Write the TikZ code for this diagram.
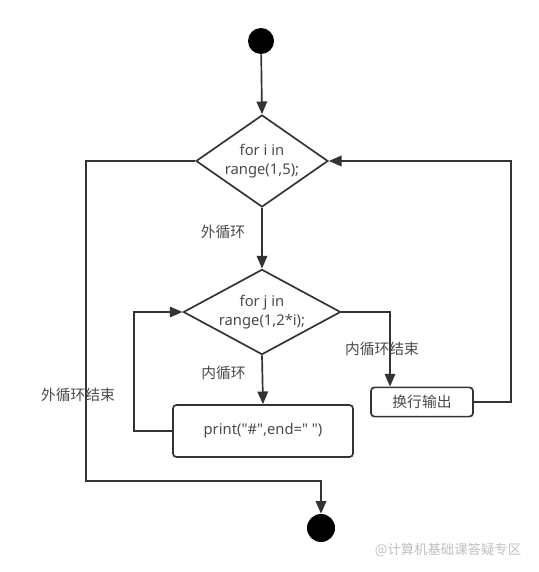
\documentclass[tikz,border=0pt]{standalone}
\usepackage{fontspec}
\setmainfont{Noto Sans}[Ligatures=TeXOff]
\newfontfamily\cjk{Noto Sans CJK SC}
\usetikzlibrary{arrows.meta, shapes.geometric, positioning}
\definecolor{linegray}{HTML}{333333}
\definecolor{textgray}{HTML}{4A4A4A}

\begin{document}
\begin{tikzpicture}[
        x=0.025cm, y=-0.025cm, >={Triangle[length=9pt,width=7.5pt]},
        every node/.style={font=\fontsize{10.5}{14}\selectfont, text=textgray},
        flow/.style={draw=linegray, line width=1.2pt},
        cond/.style={diamond, flow, inner sep=0pt, align=center},
        proc/.style={rectangle, flow, rounded corners=2.5pt, align=center},
        dot/.style={circle, fill=black, inner sep=0pt},
        lbl/.style={font=\cjk\fontsize{10.5}{14}\selectfont},
        ]
        \useasboundingbox (0,0) rectangle (539,572);

        \node[dot, minimum size=0.65cm] (start) at (261,41) {};
        \node[cond, aspect=1.43, minimum width=3.3cm, minimum height=2.3cm] (outer) at (262,161) {for i in\\range(1,5);};
        \node[cond, aspect=1.85, minimum width=3.93cm, minimum height=2.13cm] (inner) at (262,312) {for j in\\range(1,2*i);};
        \node[proc, minimum width=4.5cm, minimum height=1.3cm] (print) at (263,431) {print("\#",end=" ")};
        \node[proc, lbl, minimum width=2.55cm, minimum height=0.73cm] (newline) at (422,402) {换行输出};
        \node[dot, minimum size=0.7cm] (stop) at (321,528) {};
        \coordinate (turn) at (390,312);

        \draw[->, flow] (start) -- (outer.north);
        \draw[->, flow] (outer.south) -- node[lbl, left=8pt, pos=0.4] {外循环} (inner.north);
        \draw[->, flow] (inner.south) -- node[lbl, left=8pt, pos=0.35] {内循环} (print.north);

        \draw[->, flow] (print.west) -- ++(-38,0) |- (inner.west);
        \draw[->, flow] (inner.east) -- (turn) -- node[lbl, xshift=-0.2cm] {内循环结束} (turn |- newline.north);
        \draw[->, flow] (newline.east) -- ++(37,0) |- (outer.east);
        \draw[->, flow] (outer.west) -- ++(-109,0) -- ++(0,320) -| (stop.north);
        \node[lbl] (outerend) at (78,395) {外循环结束};

        \node[lbl, text=black!25, font=\cjk\fontsize{9.5}{12}\selectfont] (mark) at (448,550) {@计算机基础课答疑专区};
      \end{tikzpicture}
\end{document}
